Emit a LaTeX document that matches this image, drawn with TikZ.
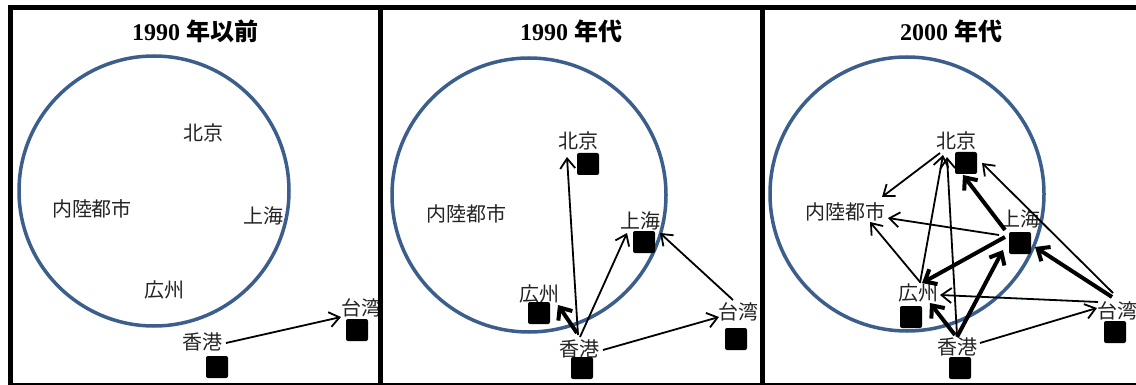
\documentclass[tikz,border=0pt]{standalone}
\usepackage{fontspec}
\setmainfont{Liberation Serif}
\newfontfamily\cjk{Noto Sans CJK JP}
\usetikzlibrary{arrows.meta}
\definecolor{ringblue}{RGB}{59,94,140}
\definecolor{labelgray}{RGB}{35,35,35}
\tikzset{
  city/.style={inner sep=0pt, text height=17.6pt, text depth=2.4pt, font=\cjk\fontsize{20}{20}\selectfont, text=labelgray},
  heading/.style={inner sep=0pt, text height=21pt, text depth=3pt, font=\fontsize{24}{24}\selectfont\bfseries},
  site/.style={fill=black, minimum size=22pt, inner sep=0pt, rounded corners=2pt},
  ring/.style={draw=ringblue, line width=3.5pt, circle, inner sep=0pt},
  flow/.style={line width=1.8pt, -{Straight Barb[length=10pt,width=15pt]}},
  bigflow/.style={line width=4pt, -{Straight Barb[length=10pt,width=17pt]}},
  frame/.style={line width=5pt}
}
\begin{document}
\begin{tikzpicture}[x=1pt,y=-1pt]
\useasboundingbox (0,0) rectangle (1136,385);
\clip (0,0) rectangle (1136,385);
\fill[white] (0,0) rectangle (1136,385);

% ---------- panel 1 ----------
\node[heading] (t1) at (195,32) {1990 {\cjk 年以前}};
\node[ring, minimum size=270pt] (ring1) at (154,191) {};
\node[city] (bj1) at (203,133) {北京};
\node[city] (nl1) at (92,209) {内陸都市};
\node[city] (sh1) at (263,216) {上海};
\node[city] (gz1) at (164,290) {広州};
\node[city] (hk1) at (202,342) {香港};
\node[city] (tw1) at (361,308) {台湾};
\node[site] (hk1s) at (217,367) {};
\node[site] (tw1s) at (357,330) {};
\draw[flow] ([shift={(24,1)}]hk1.center) -- ([shift={(-20,9)}]tw1.center);

% ---------- panel 2 ----------
\node[heading] (t2) at (571,32) {1990 {\cjk 年代}};
\node[ring, minimum size=274pt] (ring2) at (529,195) {};
\node[city] (bj2) at (578,141) {北京};
\node[city] (nl2) at (466,214) {内陸都市};
\node[city] (sh2) at (640,221) {上海};
\node[city] (gz2) at (539,294) {広州};
\node[city] (hk2) at (579,349) {香港};
\node[city] (tw2) at (738,312) {台湾};
\node[site] (bj2s) at (588,164) {};
\node[site] (sh2s) at (644,242) {};
\node[site] (gz2s) at (539,313) {};
\node[site] (hk2s) at (582,368) {};
\node[site] (tw2s) at (736,339) {};
\draw[flow] ([shift={(-1,-14)}]hk2.center) -- ([shift={(-11,16)}]bj2.center);
\draw[flow] ([shift={(1,-12)}]hk2.center) -- ([shift={(-13,12)}]sh2.center);
\draw[bigflow] ([shift={(-2,-16)}]hk2.center) -- ([shift={(19,11)}]gz2.center);
\draw[flow] ([shift={(24,1)}]hk2.center) -- ([shift={(-19,5)}]tw2.center);
\draw[flow] ([shift={(-5,-12)}]tw2.center) -- ([shift={(20,12)}]sh2.center);

% ---------- panel 3 ----------
\node[heading] (t3) at (951,32) {2000 {\cjk 年代}};
\node[ring, minimum size=274pt] (ring3) at (907,194) {};
\node[city] (bj3) at (956,141) {北京};
\node[city] (nl3) at (845,212) {内陸都市};
\node[city] (sh3) at (1020,219) {上海};
\node[city] (gz3) at (918,293) {広州};
\node[city] (hk3) at (957,347) {香港};
\node[city] (tw3) at (1117,311) {台湾};
\node[site] (bj3s) at (966,163) {};
\node[site] (sh3s) at (1020,243) {};
\node[site] (gz3s) at (911,317) {};
\node[site] (hk3s) at (960,368) {};
\node[site] (tw3s) at (1115,332) {};
\draw[flow] ([shift={(-16,12)}]bj3.center) -- ([shift={(37,-15)}]nl3.center);
\draw[flow] ([shift={(2,-10)}]gz3.center) -- ([shift={(-13,14)}]bj3.center);
\draw[flow] ([shift={(2,-11)}]gz3.center) -- ([shift={(25,10)}]nl3.center);
\draw[flow] ([shift={(-21,16)}]sh3.center) -- ([shift={(43,6)}]nl3.center);
\draw[bigflow] ([shift={(-15,11)}]sh3.center) -- ([shift={(7,34)}]bj3.center);
\draw[bigflow] ([shift={(-15,18)}]sh3.center) -- ([shift={(4,-10)}]gz3.center);
\draw[bigflow] ([shift={(0,-10)}]hk3.center) -- ([shift={(-17,31)}]sh3.center);
\draw[bigflow] ([shift={(-2,-12)}]hk3.center) -- ([shift={(12,10)}]gz3.center);
\draw[flow] ([shift={(0,-12)}]hk3.center) -- ([shift={(-9,16)}]bj3.center);
\draw[flow] ([shift={(23,-4)}]hk3.center) -- ([shift={(-20,-3)}]tw3.center);
\draw[flow] ([shift={(-19,-9)}]tw3.center) -- ([shift={(22,2)}]gz3.center);
\draw[bigflow] ([shift={(-5,-14)}]tw3.center) -- ([shift={(15,28)}]sh3.center);
\draw[flow] ([shift={(-4,-18)}]tw3.center) -- ([shift={(26,22)}]bj3.center);

% ---------- frames ----------
\draw[frame] (8,7.5) -- (1140,7.5);
\draw[frame] (8,385.5) -- (1140,385.5);
\draw[frame] (10.5,5) -- (10.5,388);
\draw[frame] (380,5) -- (380,388);
\draw[frame] (762,5) -- (762,388);
\draw[frame] (1141,5) -- (1141,388);
\end{tikzpicture}
\end{document}
